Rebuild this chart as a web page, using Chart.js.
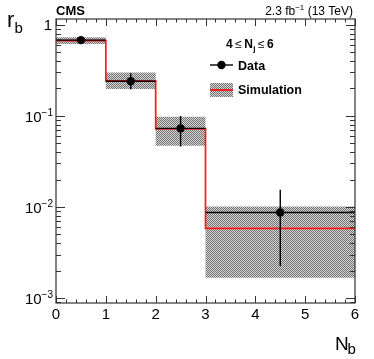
<!DOCTYPE html>
<html>
<head>
<meta charset="utf-8">
<script src="https://cdn.jsdelivr.net/npm/chart.js@4/dist/chart.umd.min.js"></script>
<style>
  body { margin: 0; background: #fff; }
  canvas { display: block; }
</style>
</head>
<body>
<canvas id="myChart" width="374" height="359"></canvas>
<script>
// bin edges in N_b, last bin is 3-6
const binEdges = [0, 1, 2, 3, 6];
// data points (bin centres) and their errors
const dataX = [0.5, 1.5, 2.5, 4.5];
const dataY = [0.68, 0.24, 0.073, 0.0087];
const dataUp = [0.70, 0.295, 0.100, 0.0154];
const dataDown = [0.66, 0.195, 0.046, 0.00225];
// simulation and its uncertainty band
const simY = [0.672, 0.242, 0.072, 0.0058];
const simUp = [0.73, 0.30, 0.098, 0.0101];
const simDown = [0.615, 0.198, 0.047, 0.00167];
// axis labels
const xTicks = [0, 1, 2, 3, 4, 5, 6];
const yDecades = [0, -1, -2, -3];

const FONT = '"Liberation Sans", Arial, Helvetica, sans-serif';
const ctx = document.getElementById('myChart').getContext('2d');

function hatch() {
    const c = document.createElement('canvas');
    c.width = 2; c.height = 2;
    const g = c.getContext('2d');
    g.fillStyle = '#d8d8d8';
    g.fillRect(0, 0, 2, 2);
    g.fillStyle = '#707070';
    g.fillRect(0, 0, 1, 1);
    g.fillRect(1, 1, 1, 1);
    return ctx.createPattern(c, 'repeat');
}
const pattern = hatch();

function steps(vals) {
    const pts = vals.map((v, i) => ({ x: binEdges[i], y: v }));
    pts.push({ x: binEdges[binEdges.length - 1], y: vals[vals.length - 1] });
    return pts;
}

/* ROOT style frame, ticks, labels, legend and error bars */
const rootStyle = {
    id: 'rootStyle',
    afterDatasetsDraw(chart) {
        const c = chart.ctx;
        const xs = chart.scales.x, ys = chart.scales.y;
        const a = chart.chartArea;
        c.save();

        // data error bars
        c.strokeStyle = '#000';
        c.lineWidth = 1.4;
        dataX.forEach((x, i) => {
            const px = xs.getPixelForValue(x);
            c.beginPath();
            c.moveTo(px, ys.getPixelForValue(dataUp[i]));
            c.lineTo(px, ys.getPixelForValue(dataDown[i]));
            const py = ys.getPixelForValue(dataY[i]);
            c.moveTo(xs.getPixelForValue(binEdges[i]), py);
            c.lineTo(xs.getPixelForValue(binEdges[i + 1]), py);
            c.stroke();
        });

        // frame
        c.strokeStyle = '#333';
        c.lineWidth = 1.2;
        c.strokeRect(a.left, a.top, a.right - a.left, a.bottom - a.top);

        // x ticks (bottom and top)
        c.lineWidth = 1;
        c.beginPath();
        for (let v = 0; v <= 6.001; v += 0.2) {
            const major = Math.abs(v - Math.round(v)) < 1e-6;
            const len = major ? 7 : 3.5;
            const px = Math.round(xs.getPixelForValue(v)) + 0.5;
            c.moveTo(px, a.bottom); c.lineTo(px, a.bottom - len);
            c.moveTo(px, a.top); c.lineTo(px, a.top + len);
        }
        // y ticks (left and right), log minors
        for (let e = -4; e <= 0; e++) {
            for (let m = 1; m <= 9; m++) {
                const v = m * Math.pow(10, e);
                if (v < ys.min || v > ys.max) continue;
                const len = m === 1 ? 9 : 5;
                const py = Math.round(ys.getPixelForValue(v)) + 0.5;
                c.moveTo(a.left, py); c.lineTo(a.left + len, py);
                c.moveTo(a.right, py); c.lineTo(a.right - len, py);
            }
        }
        c.stroke();

        // tick labels
        c.fillStyle = '#000';
        c.font = '15px ' + FONT;
        c.textAlign = 'center';
        c.textBaseline = 'middle';
        xTicks.forEach(v => c.fillText(String(v), xs.getPixelForValue(v), 315));

        yDecades.forEach(e => {
            const py = ys.getPixelForValue(Math.pow(10, e));
            c.textBaseline = 'middle';
            if (e === 0) {
                c.textAlign = 'right';
                c.font = '15px ' + FONT;
                c.fillText('1', 52, py + 1);
                return;
            }
            c.font = '10px ' + FONT;
            c.textAlign = 'right';
            const sup = '\u2212' + String(-e);
            c.fillText(sup, 53, py - 3);
            const w = c.measureText(sup).width;
            c.font = '15px ' + FONT;
            c.fillText('10', 53 - w, py + 2);
        });

        // axis titles
        c.textAlign = 'left';
        c.textBaseline = 'alphabetic';
        c.font = '22px ' + FONT;
        c.fillText('r', 7, 27);
        c.font = '15px ' + FONT;
        c.fillText('b', 14.5, 33);

        c.font = '19px ' + FONT;
        c.fillText('N', 335, 350);
        c.font = '15px ' + FONT;
        c.fillText('b', 347.5, 353.5);

        // header
        c.font = 'bold 13px ' + FONT;
        c.fillText('CMS', 56, 14.5);
        c.textAlign = 'right';
        c.font = '12px ' + FONT;
        const tail = ' (13 TeV)';
        c.fillText(tail, 353, 14.5);
        let x = 353 - c.measureText(tail).width;
        c.font = '8px ' + FONT;
        c.fillText('\u22121', x, 10);
        x -= c.measureText('\u22121').width;
        c.font = '12px ' + FONT;
        c.fillText('2.3 fb', x, 14.5);

        // legend header: 4 <= N_j <= 6
        c.textAlign = 'left';
        const parts = [
            ['4', 'bold 12px ', 0, 2.5],
            ['\u2264', '12px ', 0, 2.5],
            ['N', 'bold 12px ', 0, 0.3],
            ['j', 'bold 8px ', 3, 2.5],
            ['\u2264', '12px ', 0, 2.5],
            ['6', 'bold 12px ', 0, 0]
        ];
        let lx = 226;
        parts.forEach(p => {
            c.font = p[1] + FONT;
            c.fillText(p[0], lx, 47.5 + p[2]);
            lx += c.measureText(p[0]).width + p[3];
        });

        c.font = 'bold 12.5px ' + FONT;
        c.strokeStyle = '#000';
        c.lineWidth = 1.4;
        c.beginPath(); c.moveTo(210, 65); c.lineTo(233, 65); c.stroke();
        c.beginPath(); c.arc(221.5, 65, 4.2, 0, Math.PI * 2); c.fill();
        c.fillText('Data', 238, 69.5);

        c.fillStyle = pattern;
        c.fillRect(210, 83, 23, 14);
        c.strokeStyle = '#ff0000';
        c.lineWidth = 1.6;
        c.beginPath(); c.moveTo(210, 90); c.lineTo(233, 90); c.stroke();
        c.fillStyle = '#000';
        c.fillText('Simulation', 238, 94);

        c.restore();
    }
};

const data = {
    datasets: [
        {
            label: 'Data',
            data: dataX.map((x, i) => ({ x: x, y: dataY[i] })),
            showLine: false,
            pointRadius: 4.2,
            pointBackgroundColor: '#000',
            pointBorderWidth: 0,
            order: 1
        },
        {
            label: 'Simulation',
            data: steps(simY),
            stepped: true,
            borderColor: '#ff1a1a',
            borderWidth: 1.7,
            pointRadius: 0,
            fill: false,
            order: 2
        },
        {
            label: 'band up',
            data: steps(simUp),
            stepped: true,
            borderWidth: 0,
            borderColor: 'rgba(0,0,0,0)',
            pointRadius: 0,
            fill: false,
            order: 3
        },
        {
            label: 'band down',
            data: steps(simDown),
            stepped: true,
            borderWidth: 0,
            borderColor: 'rgba(0,0,0,0)',
            backgroundColor: pattern,
            pointRadius: 0,
            fill: '-1',
            order: 4
        }
    ]
};

const options = {
    responsive: false,
    animation: false,
    events: [],
    layout: { padding: { left: 56, top: 19, right: 19, bottom: 56 } },
    scales: {
        x: { type: 'linear', min: 0, max: 6, display: false },
        y: { type: 'logarithmic', min: 0.00088, max: 1.16, display: false }
    },
    plugins: {
        legend: { display: false },
        tooltip: { enabled: false }
    }
};

const myChart = new Chart(ctx, {
    type: 'line',
    data: data,
    options: options,
    plugins: [rootStyle]
});
</script>
</body>
</html>
